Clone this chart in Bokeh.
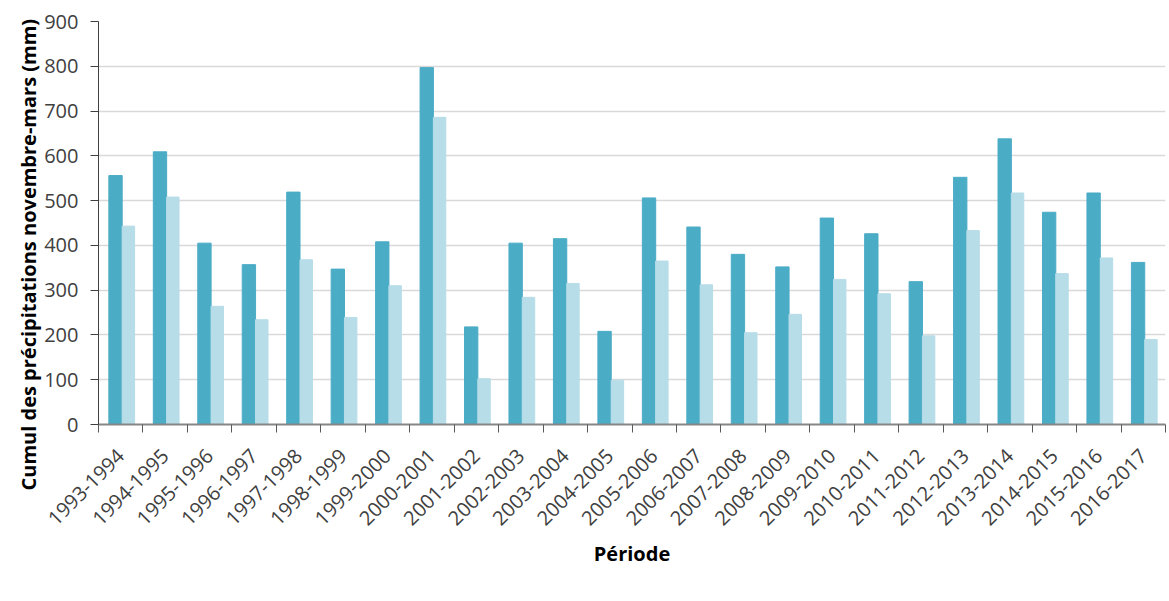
from bokeh.plotting import figure
from bokeh.models import FixedTicker, Range1d, Legend, LegendItem, ColumnDataSource, Title
from bokeh.embed import file_html
from bokeh.resources import INLINE
import math

periodes = ["1993-1994", "1994-1995", "1995-1996", "1996-1997", "1997-1998", "1998-1999",
            "1999-2000", "2000-2001", "2001-2002", "2002-2003", "2003-2004", "2004-2005",
            "2005-2006", "2006-2007", "2007-2008", "2008-2009", "2009-2010", "2010-2011",
            "2011-2012", "2012-2013", "2013-2014", "2014-2015", "2015-2016", "2016-2017"]
pluie = [556, 609, 405, 357, 519, 347, 408, 797, 218, 405, 415, 208,
         506, 441, 380, 352, 461, 426, 319, 552, 638, 474, 517, 362]
pluie_efficace = [443, 508, 264, 234, 368, 239, 310, 686, 102, 284, 315, 99,
                  365, 312, 205, 246, 324, 292, 198, 433, 517, 337, 372, 190]
y_ticks = [0, 100, 200, 300, 400, 500, 600, 700, 800, 900]
y_title = "Cumul des précipitations novembre-mars (mm)"
x_title = "Période"

FONT = "Open Sans"
n = len(periodes)
idx = list(range(n))
src_p = ColumnDataSource(dict(x=[i + 0.383 for i in idx], top=pluie))
src_e = ColumnDataSource(dict(x=[i + 0.672 for i in idx], top=pluie_efficace))

p = figure(frame_width=1067, frame_height=403, output_backend="svg", toolbar_location=None,
           x_range=Range1d(0, n), y_range=Range1d(0, 900),
           min_border_left=98, min_border_right=4, min_border_top=21, min_border_bottom=0)
p.outline_line_color = None

r1 = p.vbar(x="x", top="top", width=0.30, source=src_p, fill_color="#4bacc6", line_color="#4bacc6")
r2 = p.vbar(x="x", top="top", width=0.28, source=src_e, fill_color="#b7dde8", line_color="#b7dde8")

# x axis
centers = [i + 0.5 for i in idx]
p.xaxis.ticker = FixedTicker(ticks=centers, minor_ticks=list(range(n + 1)))
p.xaxis.major_label_overrides = {c: lab for c, lab in zip(centers, periodes)}
p.xaxis.major_tick_line_color = None
p.xaxis.minor_tick_line_color = "#595959"
p.xaxis.minor_tick_in = 0
p.xaxis.minor_tick_out = 8
p.xaxis.axis_line_color = "#868686"
p.xaxis.axis_line_width = 2
p.xaxis.major_label_orientation = math.pi / 4
p.xaxis.major_label_text_font = FONT
p.xaxis.major_label_text_font_size = "20px"
p.xaxis.major_label_text_color = "#404040"
p.xaxis.major_label_standoff = 20
p.xaxis.axis_label = x_title
p.xaxis.axis_label_text_font = FONT
p.xaxis.axis_label_text_font_style = "bold"
p.xaxis.axis_label_text_font_size = "20px"
p.xaxis.axis_label_text_color = "#000000"
p.xaxis.axis_label_standoff = 5
p.xgrid.grid_line_color = None

# y axis
p.yaxis.ticker = FixedTicker(ticks=y_ticks)
p.yaxis.minor_tick_line_color = None
p.yaxis.major_tick_in = 0
p.yaxis.major_tick_out = 8
p.yaxis.major_tick_line_color = "#404040"
p.yaxis.axis_line_color = "#404040"
p.yaxis.major_label_text_font = FONT
p.yaxis.major_label_text_font_size = "20px"
p.yaxis.major_label_text_color = "#404040"
p.yaxis.major_label_standoff = 12
p.ygrid.grid_line_color = "#d9d9d9"
p.ygrid.grid_line_width = 1.5

ytitle = Title(text=y_title, align="left", offset=-66, standoff=0,
               text_font=FONT, text_font_style="bold", text_font_size="20px",
               text_color="#000000")
p.add_layout(ytitle, "left")

legend = Legend(items=[LegendItem(label="Pluie", renderers=[r1]),
                       LegendItem(label="Pluie efficace", renderers=[r2])],
                orientation="horizontal", location="top_center")
legend.label_text_font = FONT
legend.label_text_font_size = "20px"
legend.label_text_color = "#404040"
legend.glyph_width = 11
legend.glyph_height = 12
legend.spacing = 26
legend.label_standoff = 7
legend.padding = 0
legend.margin = 0
legend.border_line_color = None
legend.background_fill_alpha = 0
p.add_layout(legend, "below")

open("out.html", "w").write(file_html(p, INLINE))
